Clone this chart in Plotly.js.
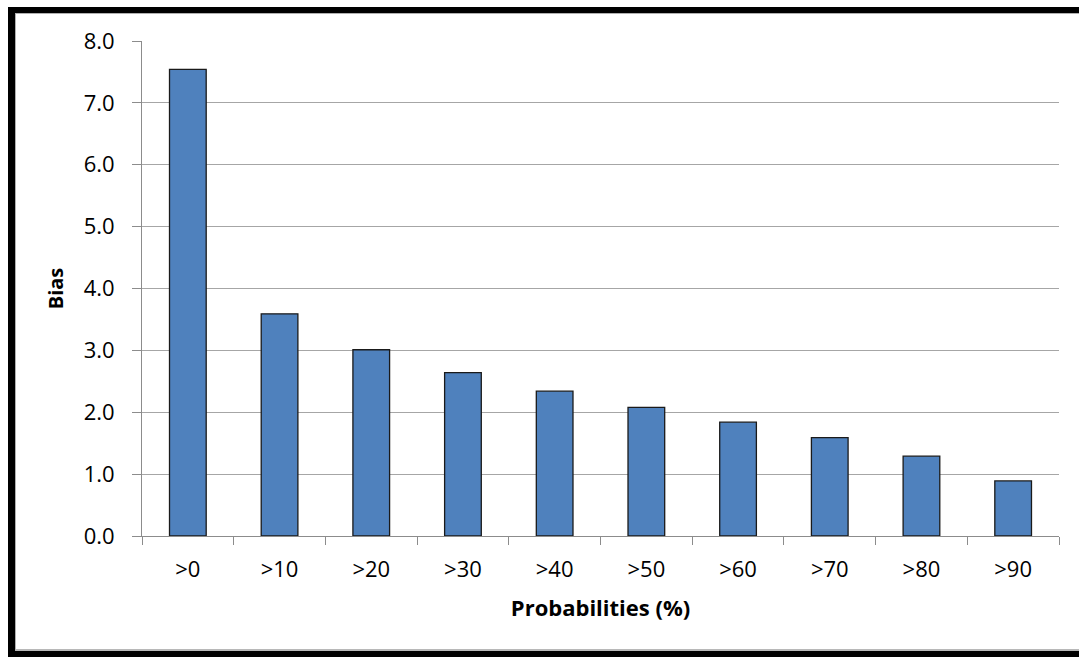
<!DOCTYPE html>
<html>
<head>
<meta charset="utf-8">
<script src="https://cdn.plot.ly/plotly-3.0.1.min.js"></script>
<style>
  html, body { margin: 0; padding: 0; background: #ffffff; }
  #wrap { position: relative; width: 1079px; height: 657px; overflow: hidden; }
  #chart { position: absolute; left: 0; top: 0; width: 1079px; height: 657px; }
  #frame {
    position: absolute; left: 8px; top: 7px; width: 1100px; height: 638px;
    border-left: 7px solid #000; border-top: 6px solid #000; border-bottom: 6px solid #000;
    box-shadow: inset 1px 1px 0 #b0b0b0, inset 0 -2px 0 #b8b8b8;
    pointer-events: none; box-sizing: content-box;
  }
</style>
</head>
<body>
<div id="wrap">
  <div id="chart"></div>
  <div id="frame"></div>
</div>
<script>
// Forecast bias by probability threshold
const categories = ['>0', '>10', '>20', '>30', '>40', '>50', '>60', '>70', '>80', '>90'];
const biasValues = [7.54, 3.59, 3.01, 2.64, 2.34, 2.08, 1.84, 1.59, 1.29, 0.89];
const yTickValues = [0, 1, 2, 3, 4, 5, 6, 7, 8];
const yTickLabels = ['0.0', '1.0', '2.0', '3.0', '4.0', '5.0', '6.0', '7.0', '8.0'];

const trace = {
  type: 'bar',
  x: categories,
  y: biasValues,
  marker: { color: '#4f81bd', line: { color: '#1a1a1a', width: 1.3 } },
  hoverinfo: 'x+y'
};

const layout = {
  width: 1079,
  height: 657,
  margin: { l: 142, r: 20, t: 41, b: 121 },
  paper_bgcolor: '#ffffff',
  plot_bgcolor: '#ffffff',
  showlegend: false,
  bargap: 0.6,
  font: { family: 'Open Sans, sans-serif', color: '#000000' },
  xaxis: {
    type: 'category',
    tickson: 'boundaries',
    ticks: 'outside',
    ticklen: 8,
    tickcolor: '#8c8c8c',
    tickwidth: 1,
    showline: true,
    linecolor: '#8c8c8c',
    linewidth: 1,
    showgrid: false,
    tickfont: { family: 'Open Sans, sans-serif', size: 22, color: '#000' },
    ticklabelstandoff: 14,
    title: { text: '<b>Probabilities (%)</b>', font: { family: 'Open Sans, sans-serif', size: 22, color: '#000' }, standoff: 18 }
  },
  yaxis: {
    range: [0, 8],
    tickvals: yTickValues,
    ticktext: yTickLabels,
    ticks: 'outside',
    ticklen: 9,
    tickcolor: '#8c8c8c',
    showline: true,
    linecolor: '#8c8c8c',
    linewidth: 1,
    showgrid: true,
    gridcolor: '#a6a6a6',
    gridwidth: 1,
    zeroline: false,
    tickfont: { family: 'Open Sans, sans-serif', size: 22, color: '#000' },
    ticklabelstandoff: 13,
    title: { text: '<b>Bias</b>', font: { family: 'Open Sans, sans-serif', size: 20, color: '#000' }, standoff: 14 }
  }
};

Plotly.newPlot('chart', [trace], layout, { displayModeBar: false, staticPlot: true });
</script>
</body>
</html>
